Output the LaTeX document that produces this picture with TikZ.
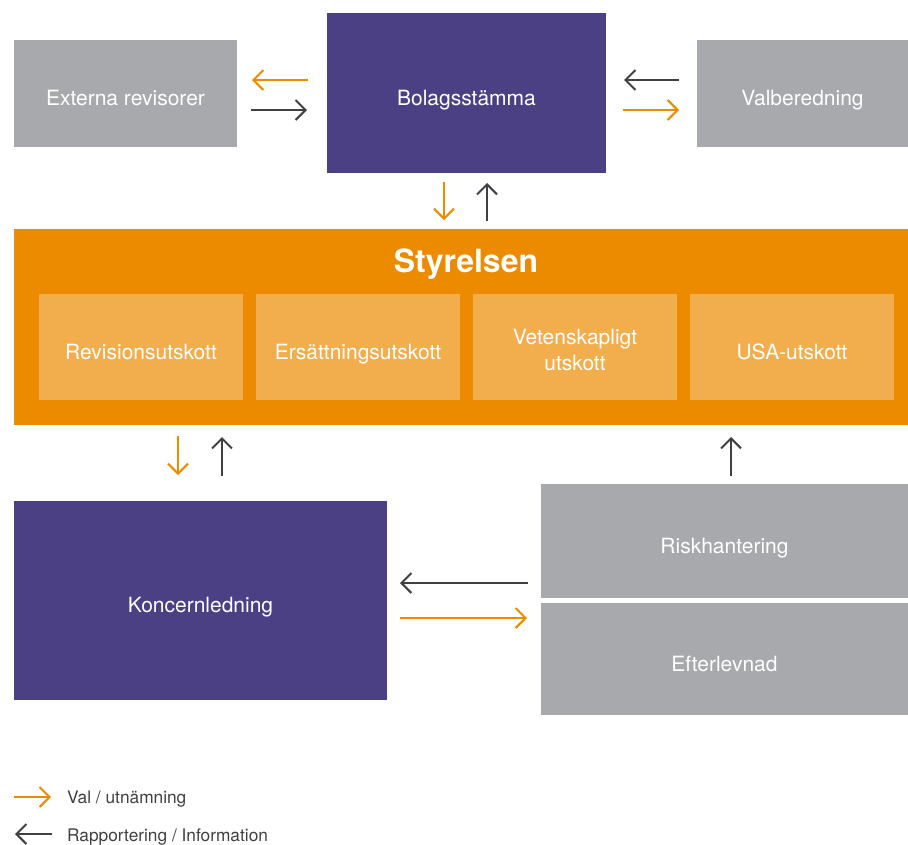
\documentclass[tikz,border=0pt]{standalone}
\usepackage{fontspec}
\setmainfont{TeX Gyre Heros}
\usetikzlibrary{arrows.meta}
\definecolor{cgray}{HTML}{A7A9AC}
\definecolor{cpurple}{HTML}{4C4084}
\definecolor{corange}{HTML}{EC8B00}
\definecolor{clorange}{HTML}{F2AE4D}
\definecolor{cdark}{HTML}{404040}
\tikzset{
  box/.style={draw=none, inner sep=0pt},
  graybox/.style={box, fill=cgray},
  purplebox/.style={box, fill=cpurple},
  subbox/.style={box, fill=clorange, minimum width=204pt, minimum height=106pt},
  boxtext/.style={anchor=base, inner sep=0pt, text=white, font=\fontsize{21}{26}\selectfont},
  arr/.style={line width=2pt, -{Straight Barb[length=10pt,width=20pt,line width=2pt]}},
  oarr/.style={arr, draw=corange},
  darr/.style={arr, draw=cdark},
  legtext/.style={anchor=base west, inner sep=0pt, text=cdark, font=\fontsize{17.3}{20}\selectfont}
}
\begin{document}
\begin{tikzpicture}[x=1pt,y=-1pt]
\useasboundingbox (0,0) rectangle (908,844);
% top row
\node[graybox, minimum width=223pt, minimum height=107pt] (ext) at (125.5,93.5) {};
\node[purplebox, minimum width=279pt, minimum height=160pt] (bol) at (466.5,93) {};
\node[graybox, minimum width=211pt, minimum height=107pt] (val) at (802.5,93.5) {};
% Styrelsen
\node[box, fill=corange, minimum width=894pt, minimum height=196pt] (sty) at (461,327) {};
\node[boxtext, font=\fontsize{32}{36}\selectfont\bfseries] (stytitle) at (466,272) {Styrelsen};
\node[subbox] (s1) at (141,347) {};
\node[subbox] (s2) at (358,347) {};
\node[subbox] (s3) at (575,347) {};
\node[subbox] (s4) at (792,347) {};
% bottom
\node[purplebox, minimum width=373pt, minimum height=199pt] (kon) at (200.5,600.5) {};
\node[graybox, minimum width=367pt, minimum height=114pt] (risk) at (724.5,541) {};
\node[graybox, minimum width=367pt, minimum height=112pt] (eft) at (724.5,659) {};
% texts
\node[boxtext] (t-ext) at ([yshift=-12pt]ext.center) {Externa revisorer};
\node[boxtext] (t-bol) at ([yshift=-12pt]bol.center) {Bolagsstämma};
\node[boxtext] (t-val) at ([yshift=-12pt]val.center) {Valberedning};
\node[boxtext] (t-s1) at ([yshift=-12pt]s1.center) {Revisionsutskott};
\node[boxtext] (t-s2) at ([yshift=-12pt]s2.center) {Ersättningsutskott};
\node[boxtext] (t-s3a) at ([yshift=3pt]s3.center) {Vetenskapligt};
\node[boxtext] (t-s3b) at ([yshift=-23pt]s3.center) {utskott};
\node[boxtext] (t-s4) at ([yshift=-12pt]s4.center) {USA-utskott};
\node[boxtext] (t-kon) at ([yshift=-12pt]kon.center) {Koncernledning};
\node[boxtext] (t-risk) at ([yshift=-12pt]risk.center) {Riskhantering};
\node[boxtext] (t-eft) at ([yshift=-12pt]eft.center) {Efterlevnad};
% arrow endpoints
\coordinate (a1s) at (308,80);  \coordinate (a1e) at (252,80);
\coordinate (a2s) at (251,110); \coordinate (a2e) at (307,110);
\coordinate (a3s) at (679,80);  \coordinate (a3e) at (624,80);
\coordinate (a4s) at (623,110); \coordinate (a4e) at (679,110);
\coordinate (a5s) at (444,182); \coordinate (a5e) at (444,220);
\coordinate (a6s) at (487,221); \coordinate (a6e) at (487,183);
\coordinate (a7s) at (178,436); \coordinate (a7e) at (178,475);
\coordinate (a8s) at (222,476); \coordinate (a8e) at (222,437);
\coordinate (a9s) at (731,476); \coordinate (a9e) at (731,437);
\coordinate (b1s) at (528,583); \coordinate (b1e) at (400,583);
\coordinate (b2s) at (400,618); \coordinate (b2e) at (527,618);
\draw[oarr] (a1s) -- (a1e);
\draw[darr] (a2s) -- (a2e);
\draw[darr] (a3s) -- (a3e);
\draw[oarr] (a4s) -- (a4e);
\draw[oarr] (a5s) -- (a5e);
\draw[darr] (a6s) -- (a6e);
\draw[oarr] (a7s) -- (a7e);
\draw[darr] (a8s) -- (a8e);
\draw[darr] (a9s) -- (a9e);
\draw[darr] (b1s) -- (b1e);
\draw[oarr] (b2s) -- (b2e);
% legend
\coordinate (l1s) at (14,797); \coordinate (l1e) at (51,797);
\coordinate (l2s) at (52,834); \coordinate (l2e) at (15,834);
\draw[oarr] (l1s) -- (l1e);
\draw[darr] (l2s) -- (l2e);
\node[legtext] (lt1) at (67,803.3) {Val / utnämning};
\node[legtext] (lt2) at (67,841) {Rapportering / Information};
\end{tikzpicture}
\end{document}
